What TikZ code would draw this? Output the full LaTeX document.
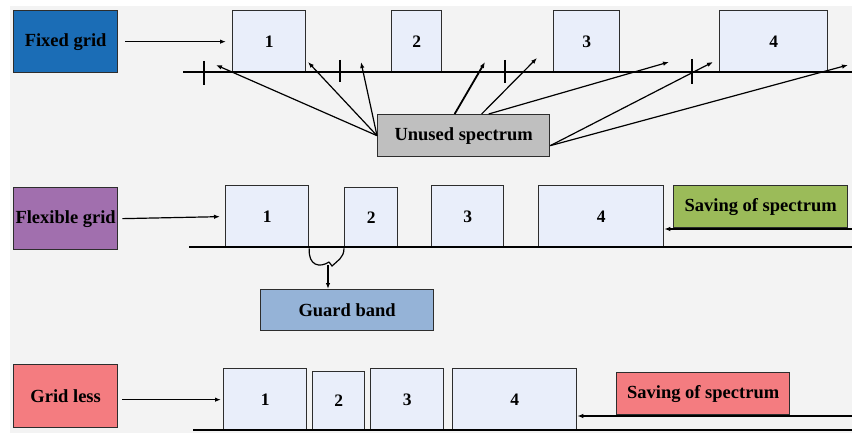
\documentclass[tikz,border=0pt]{standalone}
\usepackage{fontspec}
\setmainfont{Liberation Serif}
\usetikzlibrary{arrows.meta}
\definecolor{bgc}{RGB}{243,243,243}
\definecolor{fixc}{RGB}{27,109,182}
\definecolor{flexc}{RGB}{161,111,174}
\definecolor{glc}{RGB}{244,124,128}
\definecolor{greenc}{RGB}{155,187,89}
\definecolor{guardc}{RGB}{149,179,215}
\definecolor{grayc}{RGB}{191,191,191}
\definecolor{slotc}{RGB}{233,238,250}
\definecolor{edgec}{RGB}{45,45,45}
\begin{document}
\begin{tikzpicture}[x=1pt,y=-1pt,
  boxst/.style={draw=edgec,line width=1.3pt,anchor=north west,inner sep=0pt,
     font=\fontsize{18.5}{20}\selectfont\bfseries},
  slot/.style={boxst,fill=slotc,font=\fontsize{17.5}{19}\selectfont\bfseries},
  arr/.style={line width=1.2pt,-{Latex[length=6pt,width=4.5pt]}},
  ln/.style={line width=1.2pt}]
\useasboundingbox (0,0) rectangle (852,433);
\fill[white] (0,0) rectangle (852,433);
\fill[bgc] (10,6) rectangle (852,433);

% ---------- Fixed grid ----------
\node[boxst,fill=fixc,minimum width=104pt,minimum height=62pt] (fixed) at (13,10) {Fixed grid};
\node[slot,minimum width=73pt,minimum height=62pt] (f1) at (232,10) {1};
\node[slot,minimum width=50pt,minimum height=62pt] (f2) at (391,10) {2};
\node[slot,minimum width=66pt,minimum height=62pt] (f3) at (553,10) {3};
\node[slot,minimum width=108pt,minimum height=62pt] (f4) at (719,10) {4};
\draw[ln] (183,72) -- (852,72);
\foreach \tx/\ta/\tb in {204/61/85,340/60/82,505/60/83,692/59/84}
  \draw[line width=1.4pt] (\tx,\ta) -- (\tx,\tb);
\node[boxst,fill=grayc,minimum width=172pt,minimum height=42pt] (unused) at (377,114) {Unused spectrum};
\draw[arr] ([xshift=7pt]fixed.east) -- ([xshift=-6pt]f1.west);

\coordinate (a1) at (216,65);
\coordinate (a2) at (308,62);
\coordinate (a3) at (361,62);
\coordinate (a4) at (485,62);
\coordinate (a5) at (537,58);
\coordinate (a6) at (669,62);
\coordinate (a7) at (713,62);
\coordinate (a8) at (848,65);
\draw[arr] (unused.west) -- (a1);
\draw[arr] (unused.west) -- (a2);
\draw[arr] (unused.west) -- (a3);
\draw[arr,line width=1.8pt] ([xshift=-9pt]unused.north) -- (a4);
\draw[arr] ([xshift=18pt]unused.north) -- (a5);
\draw[arr] ([xshift=25pt]unused.north) -- (a6);
\draw[arr] ([yshift=-10pt]unused.east) -- (a7);
\draw[arr] ([yshift=-10pt]unused.east) -- (a8);

% ---------- Flexible grid ----------
\node[boxst,fill=flexc,minimum width=104pt,minimum height=62pt] (flex) at (13,187) {Flexible grid};
\node[slot,minimum width=83pt,minimum height=62pt] (x1) at (225,185) {1};
\node[slot,minimum width=53pt,minimum height=60pt] (x2) at (344,187) {2};
\node[slot,minimum width=72pt,minimum height=62pt] (x3) at (431,185) {3};
\node[slot,minimum width=125pt,minimum height=62pt] (x4) at (538,185) {4};
\draw[ln] (189,247) -- (852,247);
\node[boxst,fill=greenc,minimum width=174pt,minimum height=42pt] (save1) at (673,185) {Saving of spectrum};
\node[boxst,fill=guardc,minimum width=173pt,minimum height=41pt] (guard) at (260,289) {Guard band};
\draw[arr] ([xshift=4pt]flex.east) -- ([xshift=-5pt]x1.west);
\coordinate (s1) at (852,229);
\draw[arr] (s1) -- (x4.east |- s1);
% guard band brace
\draw[ln] (x1.south east) .. controls (308,266) and (320,268) .. (329,262);
\draw[ln] (x2.south west) .. controls (344,258) and (337,261) .. (332,266) -- (329,262);
\coordinate (gtop) at (328,265);
\draw[arr] (gtop) -- (gtop |- guard.north);

% ---------- Grid less ----------
\node[boxst,fill=glc,minimum width=104pt,minimum height=63pt] (gl) at (13,364) {Grid less};
\node[slot,minimum width=83pt,minimum height=62pt] (g1) at (223,368) {1};
\node[slot,minimum width=52pt,minimum height=59pt] (g2) at (312,371) {2};
\node[slot,minimum width=73pt,minimum height=62pt] (g3) at (370,368) {3};
\node[slot,minimum width=124pt,minimum height=62pt] (g4) at (452,368) {4};
\draw[ln] (193,430) -- (852,430);
\node[boxst,fill=glc,minimum width=173pt,minimum height=42pt] (save2) at (616,372) {Saving of spectrum};
\draw[arr] ([xshift=4pt]gl.east |- g1.west) -- ([xshift=-2pt]g1.west);
\coordinate (s2) at (852,416);
\draw[arr] (s2) -- (g4.east |- s2);
\end{tikzpicture}
\end{document}
